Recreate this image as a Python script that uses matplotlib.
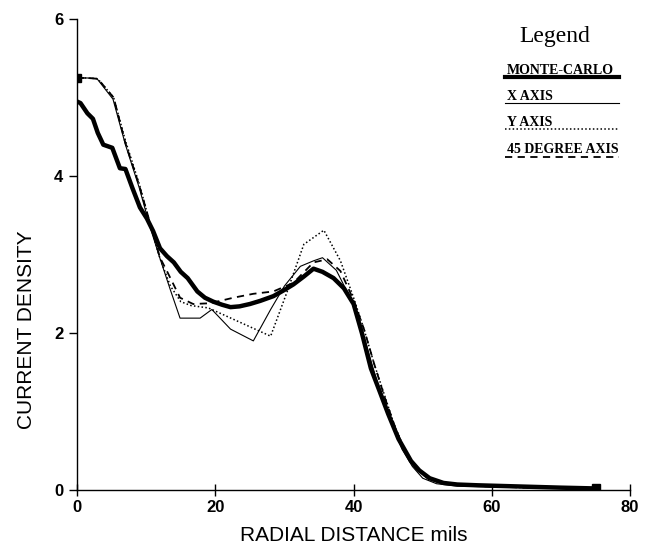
import matplotlib
matplotlib.use('Agg')
from matplotlib import pyplot as plt

# monte-carlo (thick)
mc_x = [0, 0.5, 1.5, 2.3, 3, 3.8, 5.1, 6.2, 7, 8, 9.1, 10.1, 11, 12, 13, 14, 15, 16, 17.4, 18.5,
        19.7, 21, 22.2, 23.5, 25, 26.5, 28.4, 30, 31.3, 32.8, 34.2, 35.5, 37.1, 38.6, 40, 41.2,
        42.5, 43.8, 45, 46.5, 48.3, 49.5, 51, 53, 55, 58, 62, 66, 70, 75]
mc_y = [4.95, 4.93, 4.8, 4.73, 4.55, 4.4, 4.36, 4.1, 4.09, 3.85, 3.6, 3.46, 3.3, 3.08, 2.98, 2.9,
        2.78, 2.7, 2.53, 2.45, 2.4, 2.36, 2.33, 2.34, 2.37, 2.41, 2.47, 2.55, 2.62, 2.72, 2.82,
        2.78, 2.7, 2.57, 2.37, 2.0, 1.55, 1.25, 0.97, 0.65, 0.37, 0.25, 0.15, 0.09, 0.07, 0.06,
        0.05, 0.04, 0.03, 0.02]

# x axis (thin solid)
xa_x = [0, 1.5, 2.9, 5.2, 7, 9, 10.6, 12, 13.5, 14.9, 17.8, 19.5, 22.2, 25.5, 28, 30, 32.3,
        34.2, 35.5, 37.5, 39.5, 41, 42.5, 44, 45.5, 47, 48.5, 50, 52, 55, 60, 65, 70, 75]
xa_y = [5.25, 5.25, 5.24, 4.98, 4.4, 3.85, 3.34, 2.95, 2.55, 2.19, 2.19, 2.3, 2.05, 1.9, 2.3,
        2.6, 2.85, 2.92, 2.96, 2.8, 2.45, 2.1, 1.65, 1.2, 0.85, 0.52, 0.3, 0.15, 0.08, 0.05,
        0.04, 0.03, 0.02, 0.02]

# y axis (dotted)
ya_x = [0, 1.5, 3, 5.3, 7, 9, 10.7, 12, 13.5, 15, 16.5, 19, 22, 25, 28, 30.4, 32.8, 35.7, 38.1,
        40, 41.5, 43, 44.5, 46, 47.5, 49, 51, 54, 58, 65, 75]
ya_y = [5.25, 5.25, 5.24, 5.0, 4.45, 3.9, 3.35, 2.95, 2.6, 2.4, 2.35, 2.32, 2.2, 2.08, 1.96,
        2.53, 3.13, 3.31, 2.92, 2.45, 2.05, 1.6, 1.2, 0.8, 0.5, 0.28, 0.13, 0.07, 0.05, 0.03, 0.02]

# 45 degree axis (dashed)
da_x = [0, 1.5, 3, 5.3, 7, 9, 10.7, 12, 13, 14.9, 16.8, 19.3, 22.6, 25.5, 28.4, 31.3, 34.2,
        36.2, 38.1, 40, 41.5, 43, 44.5, 46, 47.5, 49, 51, 54, 58, 65, 75]
da_y = [5.25, 5.25, 5.24, 5.0, 4.42, 3.88, 3.36, 2.96, 2.79, 2.45, 2.37, 2.38, 2.45, 2.5, 2.53,
        2.64, 2.9, 2.94, 2.79, 2.42, 2.05, 1.6, 1.18, 0.8, 0.48, 0.27, 0.13, 0.07, 0.05, 0.03, 0.02]

labels = ['MONTE-CARLO', 'X AXIS', 'Y AXIS', '45 DEGREE AXIS']
xticks = [0, 20, 40, 60, 80]
yticks = [0, 2, 4, 6]

sans = ['Liberation Sans', 'DejaVu Sans']

fig = plt.figure(figsize=(6.5, 5.54), dpi=100)
ax = fig.add_axes([0.1185, 0.1155, 0.851, 0.850])

ax.plot(xa_x, xa_y, color='black', lw=0.8)
ax.plot(ya_x, ya_y, color='black', lw=1.1, ls=(0, (1, 1.5)))
ax.plot(da_x, da_y, color='black', lw=1.3, ls=(0, (4, 3)))
ax.plot(mc_x, mc_y, color='black', lw=3.2)
ax.plot([xa_x[0], xa_x[-1]], [xa_y[0], xa_y[-1]], 's', color='black', ms=6, ls='none')

ax.set_xlim(0, 80)
ax.set_ylim(0, 6)
ax.set_xticks(xticks)
ax.set_yticks(yticks)
for s in ['top', 'right']:
    ax.spines[s].set_visible(False)
ax.spines['left'].set_linewidth(1.0)
ax.spines['bottom'].set_linewidth(1.0)
ax.tick_params(axis='x', direction='inout', length=8, width=1, pad=3)
ax.tick_params(axis='y', direction='out', length=6, width=1, pad=4)
for t in ax.get_xticklabels() + ax.get_yticklabels():
    t.set_family(sans)
    t.set_fontweight('bold')
    t.set_fontsize(12)

ax.set_xlabel('RADIAL DISTANCE mils', fontsize=15, family=sans, labelpad=8)
ax.set_ylabel('CURRENT DENSITY', fontsize=15, family=sans)
ax.yaxis.set_label_coords(-0.075, 0.34)

# legend drawn by hand
fig.text(0.853, 0.925, 'Legend', family='Liberation Serif', fontsize=17, ha='center')
styles = [dict(lw=3.0), dict(lw=0.8), dict(lw=1.1, ls=(0, (1, 1.5))), dict(lw=1.3, ls=(0, (4, 3)))]
line_y = [0.861, 0.814, 0.767, 0.717]
for lab, st, ly in zip(labels, styles, line_y):
    fig.text(0.780, ly + 0.006, lab, family='Liberation Serif', fontweight='bold',
             fontsize=10, va='baseline')
    fig.add_artist(plt.Line2D([0.777, 0.953], [ly, ly], color='black', **st))

plt.savefig('out.png', dpi=100)
